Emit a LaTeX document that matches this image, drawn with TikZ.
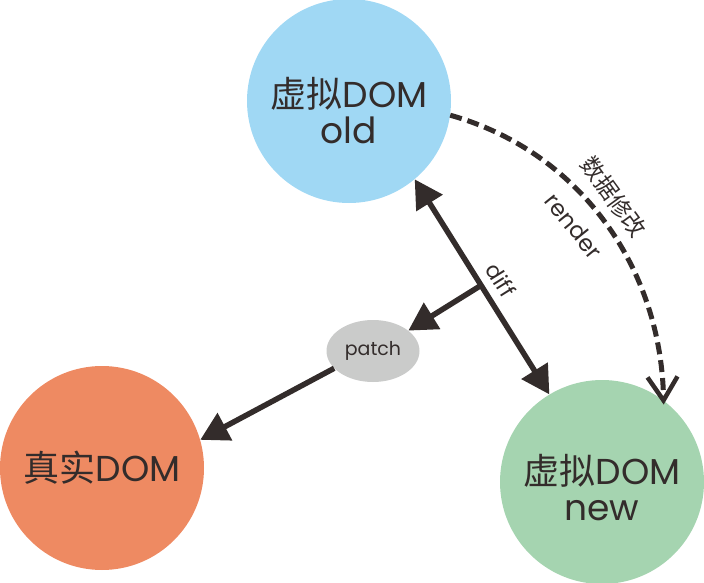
\documentclass[tikz,border=0pt]{standalone}
\usepackage{fontspec}
\setmainfont{Poppins}
\newfontfamily\cjk{Noto Sans CJK SC}
\usetikzlibrary{arrows.meta,shapes.geometric,calc}
\definecolor{cblue}{HTML}{A0D8F4}
\definecolor{corange}{HTML}{EE8A62}
\definecolor{cgreen}{HTML}{A5D4B0}
\definecolor{cgray}{HTML}{CACBCA}
\definecolor{cdark}{HTML}{332C2B}
\begin{document}
\begin{tikzpicture}[x=1pt,y=-1pt,
  bigc/.style={circle,inner sep=0pt,minimum size=204pt},
  bigtext/.style={text=cdark,align=center,font=\fontsize{36}{36}\selectfont},
  conn/.style={draw=cdark,line width=5.5pt,-{Triangle[length=28pt,width=30pt]}},
  lbl/.style={text=cdark,inner sep=0pt}]
\useasboundingbox (0,0) rectangle (704,583);
\node[bigc,fill=cblue,label={[bigtext,yshift=-10pt]center:{\cjk 虚拟}DOM\\old}] (old) at (349,101) {};
\node[bigc,fill=corange,label={[bigtext]center:{\cjk 真实}DOM}] (real) at (102,468) {};
\node[bigc,fill=cgreen,label={[bigtext,yshift=-6pt]center:{\cjk 虚拟}DOM\\new}] (new) at (602,482) {};
\node[ellipse,fill=cgray,minimum width=93pt,minimum height=62pt,inner sep=0pt,
  text=cdark,font=\fontsize{19}{21}\selectfont] (patch) at (373,351) {patch};
\draw[conn,{Triangle[length=28pt,width=30pt]}-{Triangle[length=28pt,width=30pt]}]
  (old.-50) -- (new.121);
\coordinate (br) at ($(old.-50)!0.493!(new.121)$);
\draw[conn] (br) -- (patch.30);
\draw[conn] (patch.204) -- (real.16);
\coordinate (tip) at (new.53);
\draw[draw=cdark,line width=5pt,dash pattern=on 12pt off 6pt]
  (old.-8) .. controls (575,150) and (660,262) .. ($(tip)+(0,-4)$);
\draw[draw=cdark,line width=4.5pt,miter limit=10]
  ($(tip)+(-16,-23)$) -- (tip) -- ($(tip)+(14,-24)$);
\node[lbl,rotate=-58,font=\fontsize{22}{24}\selectfont] (difflbl) at (501,280) {diff};
\node[lbl,rotate=-51,font=\fontsize{23}{25}\selectfont] (renderlbl) at (574,226) {render};
\node[lbl,rotate=-54,font=\fontsize{23}{25}\cjk] (modlbl) at (614,197) {数据修改};
\end{tikzpicture}
\end{document}
